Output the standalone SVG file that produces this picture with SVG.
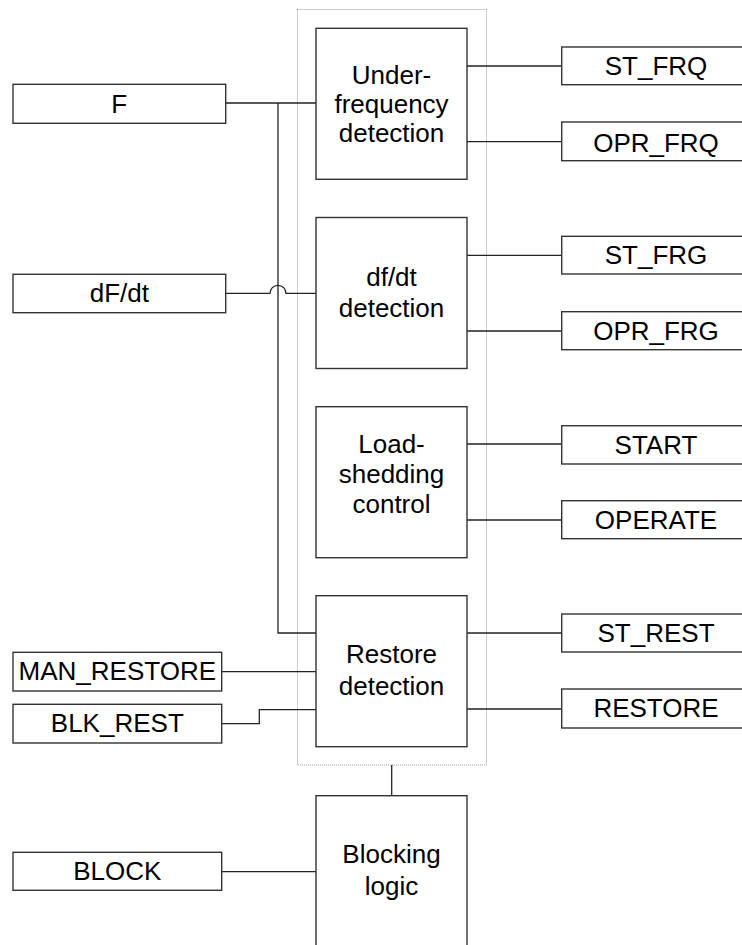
<svg xmlns="http://www.w3.org/2000/svg" width="742" height="945" viewBox="0 0 742 945">
<style>
.box{fill:#fff;stroke:#333;stroke-width:1.4}
.ln{fill:none;stroke:#222;stroke-width:1.3}
.frame{fill:none;stroke:#999;stroke-width:1;stroke-dasharray:1 1}
text{font-family:"Liberation Sans",Arial,sans-serif;font-size:26px;fill:#000;text-anchor:middle}
</style>
<rect width="742" height="945" fill="#fff"/>
<g id="container"><rect class="frame" x="297.5" y="9.5" width="189" height="755.5"/></g>
<g id="connectors">
<path class="ln" d="M225.7 103H316"/>
<path class="ln" d="M278 103V633H316"/>
<path class="ln" d="M225.7 293.3H270A8 8 0 0 1 286 293.3H316"/>
<path class="ln" d="M221.7 671.7H316"/>
<path class="ln" d="M221.7 723.7H259.3V709.7H316"/>
<path class="ln" d="M221.7 871.7H316"/>
<path class="ln" d="M391.7 765V796"/>
<path class="ln" d="M467 66H561.7M467 141.7H561.7M467 255.3H561.7M467 331H561.7M467 444H561.7M467 520H561.7M467 633H561.7M467 709H561.7"/>
</g>
<g id="F"><rect class="box" x="13" y="84.3" width="212.7" height="39"/><text x="119.3" y="112.7">F</text></g>
<g id="dFdt"><rect class="box" x="13" y="274.3" width="212.7" height="38.4"/><text x="119.3" y="302">dF/dt</text></g>
<g id="MAN_RESTORE"><rect class="box" x="13" y="652.3" width="208.7" height="38.7"/><text x="117.3" y="679.5">MAN_RESTORE</text></g>
<g id="BLK_REST"><rect class="box" x="13" y="704.3" width="208.7" height="38.7"/><text x="117.3" y="731.7">BLK_REST</text></g>
<g id="BLOCK"><rect class="box" x="13" y="852.3" width="208.7" height="38"/><text x="117.3" y="879.5">BLOCK</text></g>
<g id="underfreq"><rect class="box" x="316" y="28.3" width="151" height="151"/><text x="391.5" y="83.5">Under-</text><text x="391.5" y="112.5">frequency</text><text x="391.5" y="141.5">detection</text></g>
<g id="dfdt"><rect class="box" x="316" y="217.5" width="151" height="151"/><text x="391.5" y="285.5">df/dt</text><text x="391.5" y="317.3">detection</text></g>
<g id="loadshed"><rect class="box" x="316" y="406.7" width="151" height="151"/><text x="391.5" y="453.3">Load-</text><text x="391.5" y="483">shedding</text><text x="391.5" y="512.7">control</text></g>
<g id="restore"><rect class="box" x="316" y="595.7" width="151" height="151"/><text x="391.5" y="663.3">Restore</text><text x="391.5" y="695">detection</text></g>
<g id="blocking"><rect class="box" x="316" y="795.7" width="151" height="160"/><text x="391.5" y="863.3">Blocking</text><text x="391.5" y="895">logic</text></g>
<g id="ST_FRQ"><rect class="box" x="561.7" y="47" width="190" height="37.7"/><text x="656" y="75">ST_FRQ</text></g>
<g id="OPR_FRQ"><rect class="box" x="561.7" y="122" width="190" height="38.7"/><text x="656" y="151.5">OPR_FRQ</text></g>
<g id="ST_FRG"><rect class="box" x="561.7" y="236.3" width="190" height="37.7"/><text x="656" y="264">ST_FRG</text></g>
<g id="OPR_FRG"><rect class="box" x="561.7" y="311.7" width="190" height="38"/><text x="656" y="340">OPR_FRG</text></g>
<g id="START"><rect class="box" x="561.7" y="425.7" width="190" height="38.3"/><text x="656" y="453.5">START</text></g>
<g id="OPERATE"><rect class="box" x="561.7" y="500.7" width="190" height="38"/><text x="656" y="529">OPERATE</text></g>
<g id="ST_REST"><rect class="box" x="561.7" y="614" width="190" height="38"/><text x="656" y="641.5">ST_REST</text></g>
<g id="RESTORE"><rect class="box" x="561.7" y="689" width="190" height="39"/><text x="656" y="716.7">RESTORE</text></g>
</svg>
